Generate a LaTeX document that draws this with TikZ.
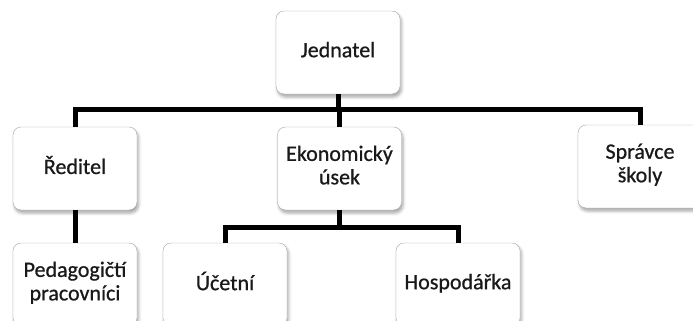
\documentclass[tikz,border=0pt]{standalone}
\usepackage{fontspec}
\setmainfont{Carlito}
\newfontfamily\boxfont[FakeBold=0.7]{Carlito}
\usetikzlibrary{positioning,shadows.blur}
\tikzset{>=latex}
\tikzset{
  unit/.style={draw=black!35, fill=white, rounded corners=8pt,
    minimum width=124pt, minimum height=83pt, align=center,
    font=\boxfont\fontsize{22}{23.5}\selectfont, text=black!90,
    execute at begin node=\strut, execute at end node=\strut,
    blur shadow={shadow xshift=1.5pt, shadow yshift=-3pt, shadow blur radius=3pt, shadow opacity=35}},
  link/.style={line width=5pt, black}
}

\begin{document}
\begin{tikzpicture}[x=1pt,y=-1pt]
\useasboundingbox (0,0) rectangle (693,321);
\clip (0,0) rectangle (693,321);
\coordinate (bar) at (0,109);
\coordinate (subbar) at (0,227);
\node[unit] (jed) at (338,52.5) {Jednatel};
\node[unit] (red) at (75,168.5) {Ředitel};
\node[unit] (eko) at (339.5,168.5) {Ekonomický\\úsek};
\node[unit] (spr) at (640,166.5) {Správce\\školy};
\node[unit] (ped) at (75,284.5) {Pedagogičtí\\pracovníci};
\node[unit] (uce) at (225,284.5) {Účetní};
\node[unit] (hos) at (458,284.5) {Hospodářka};
\draw[link] (jed.south) -- (jed.south |- bar);
\draw[link] (red.north) |- (spr.north |- bar) -- (spr.north);
\draw[link] (eko.north) -- (eko.north |- bar);
\draw[link] (red.south) -- (ped.north);
\draw[link] (eko.south) -- (eko.south |- subbar);
\draw[link] (uce.north) |- (hos.north |- subbar) -- (hos.north);
\end{tikzpicture}
\end{document}
